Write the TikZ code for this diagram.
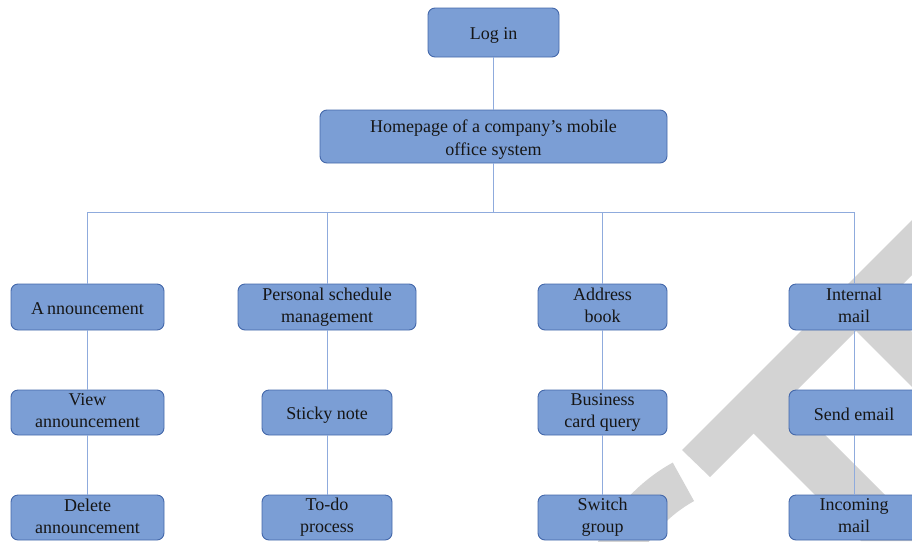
\documentclass[tikz,border=0pt]{standalone}
\usepackage{fontspec}
\setmainfont{Liberation Serif}
\definecolor{boxfill}{RGB}{123,158,213}
\definecolor{boxdraw}{RGB}{68,104,170}
\definecolor{linec}{RGB}{143,171,221}
\definecolor{wm}{RGB}{211,211,211}
\definecolor{txt}{RGB}{22,22,22}
\begin{document}
\begin{tikzpicture}[x=1pt,y=-1pt,
  box/.style={draw=boxdraw, line width=0.9pt, fill=boxfill, rounded corners=7pt,
    align=center, inner sep=0pt, text=txt, font=\fontsize{18}{22}\selectfont,
    execute at begin node={\rule{0pt}{18pt}},
    execute at end node={\rule[-3pt]{0pt}{3pt}}},
  conn/.style={draw=linec, line width=1pt}]
\useasboundingbox (0,0) rectangle (912,541);
\clip (0,0) rectangle (912,541);
% watermark
\fill[wm] (682,450) -- (912,220) -- (912,275) -- (883.5,303.5) -- (912,332)
  -- (912,387) -- (856,331) -- (788.5,398.5) -- (912,522) -- (912,541)
  -- (861,541) -- (753.5,433.5) -- (710,477) -- cycle;
\fill[wm] ([shift={(760,620)}]-119:180) arc[start angle=-119, end angle=-165, radius=180]
  -- ([shift={(760,620)}]-165:136) arc[start angle=-165, end angle=-119, radius=136] -- cycle;
% nodes
\node[box, minimum width=131pt, minimum height=49pt] (login) at (493.5,32.5) {Log in};
\node[box, minimum width=347pt, minimum height=53pt, font=\fontsize{18}{23}\selectfont] (home) at (493.5,136.5)
  {\rule{0pt}{18pt}Homepage of a company’s mobile\\office system\rule[-3pt]{0pt}{3pt}};
\node[box, minimum width=153pt, minimum height=46pt] (ann) at (87.5,307) {A\kern3pt nnouncement};
\node[box, minimum width=178pt, minimum height=46pt] (per) at (327,307) {Personal schedule\\management};
\node[box, minimum width=129pt, minimum height=46pt] (adr) at (602.5,307) {Address\\book};
\node[box, minimum width=130pt, minimum height=46pt] (int) at (854,307) {Internal\\mail};
\node[box, minimum width=153pt, minimum height=45pt] (view) at (87.5,412.5) {View\\announcement};
\node[box, minimum width=130pt, minimum height=45pt] (sticky) at (327,412.5) {Sticky note};
\node[box, minimum width=129pt, minimum height=45pt] (bcq) at (602.5,412.5) {Business\\card query};
\node[box, minimum width=130pt, minimum height=45pt] (send) at (854,412.5) {Send email};
\node[box, minimum width=153pt, minimum height=45pt] (del) at (87.5,517.5) {Delete\\announcement};
\node[box, minimum width=130pt, minimum height=45pt] (todo) at (327,517.5) {To-do\\process};
\node[box, minimum width=129pt, minimum height=45pt] (sw) at (602.5,517.5) {Switch\\group};
\node[box, minimum width=130pt, minimum height=45pt] (inc) at (854,517.5) {Incoming\\mail};
% connectors
\coordinate (busy) at (0,212);
\draw[conn] (login) -- (home);
\draw[conn] (home.south) -- (home.south |- busy);
\draw[conn] (ann.north) -- (ann.north |- busy) -- (int.north |- busy) -- (int.north);
\draw[conn] (per.north) -- (per.north |- busy);
\draw[conn] (adr.north) -- (adr.north |- busy);
\draw[conn] (ann) -- (view);
\draw[conn] (view) -- (del);
\draw[conn] (per) -- (sticky);
\draw[conn] (sticky) -- (todo);
\draw[conn] (adr) -- (bcq);
\draw[conn] (bcq) -- (sw);
\draw[conn] (int) -- (send);
\draw[conn] (send) -- (inc);
\end{tikzpicture}
\end{document}
